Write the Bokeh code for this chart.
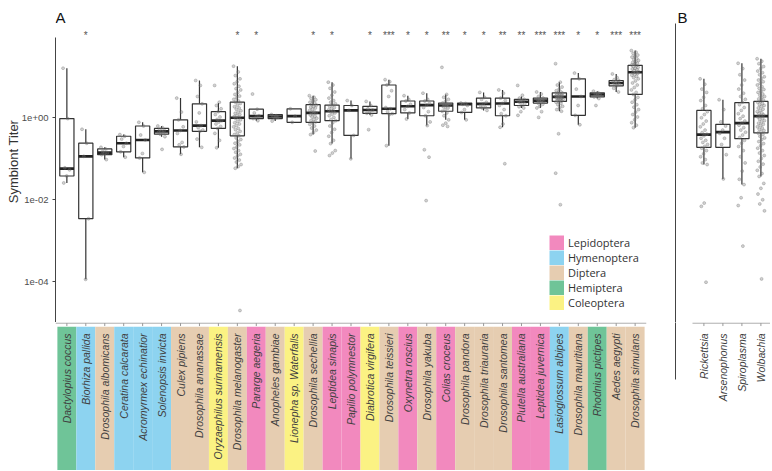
import numpy as np
from bokeh.plotting import figure
from bokeh.models import (Range1d, FixedTicker, CustomJSTickFormatter, ColumnDataSource,
                          Legend, LegendItem, Label)
from bokeh.layouts import row, column
from bokeh.embed import file_html
from bokeh.resources import INLINE
from bokeh.core.properties import value

# ---------------- data (panel A) ----------------
species = ["Dactylopius coccus", "Biorhiza pallida", "Drosophila albomicans", "Ceratina calcarata",
           "Acromyrmex echinatior", "Solenopsis invicta", "Culex pipiens", "Drosophila ananassae",
           "Oryzaephilus surinamensis", "Drosophila melanogaster", "Pararge aegeria", "Anopheles gambiae",
           "Lionepha sp. Waterfalls", "Drosophila sechellia", "Leptidea sinapis", "Papilio polymnestor",
           "Diabrotica virgifera", "Drosophila teissieri", "Oxynetra roscius", "Drosophila yakuba",
           "Colias croceus", "Drosophila pandora", "Drosophila triauraria", "Drosophila santomea",
           "Plutella australiana", "Leptidea juvernica", "Lasioglossum albipes", "Drosophila mauritiana",
           "Rhodnius pictipes", "Aedes aegypti", "Drosophila simulans"]
orders = ["Hemiptera", "Hymenoptera", "Diptera", "Hymenoptera", "Hymenoptera", "Hymenoptera", "Diptera",
          "Diptera", "Coleoptera", "Diptera", "Lepidoptera", "Diptera", "Coleoptera", "Diptera",
          "Lepidoptera", "Lepidoptera", "Coleoptera", "Diptera", "Lepidoptera", "Diptera", "Lepidoptera",
          "Diptera", "Diptera", "Diptera", "Lepidoptera", "Lepidoptera", "Hymenoptera", "Diptera",
          "Hemiptera", "Diptera", "Diptera"]
signif = ["", "*", "", "", "", "", "", "", "", "*", "*", "", "", "*", "*", "", "*", "***", "*", "*",
          "**", "*", "*", "**", "**", "***", "***", "*", "*", "***", "***"]

# box statistics, log10(titer)
lo_A = [-1.59, -3.94, -1.02, -0.96, -1.33, -0.46, -0.89, -0.72, -0.73, -1.23, -0.07, -0.08, -0.11, -0.41,
        -0.63, -1.00, 0.07, -0.68, -0.03, -0.19, -0.05, -0.05, 0.18, -0.23, 0.24, 0.24, 0.16, -0.17,
        0.47, 0.63, -0.24]
q1_A = [-1.42, -2.46, -0.90, -0.83, -0.98, -0.40, -0.71, -0.33, -0.26, -0.44, -0.02, -0.02, -0.11, -0.11,
        -0.07, -0.43, 0.11, 0.10, 0.12, 0.05, 0.16, 0.13, 0.24, 0.05, 0.30, 0.36, 0.40, 0.06, 0.51, 0.78, 0.57]
med_A = [-1.24, -0.94, -0.85, -0.62, -0.54, -0.33, -0.31, -0.19, -0.07, 0.00, 0.04, 0.03, 0.04, 0.12,
         0.16, 0.18, 0.19, 0.22, 0.28, 0.31, 0.30, 0.33, 0.34, 0.35, 0.39, 0.42, 0.51, 0.52, 0.57, 0.85, 1.11]
q3_A = [-0.02, -0.62, -0.76, -0.45, -0.20, -0.26, -0.05, 0.34, 0.15, 0.38, 0.21, 0.08, 0.22, 0.32, 0.31,
        0.30, 0.28, 0.80, 0.41, 0.41, 0.36, 0.36, 0.48, 0.48, 0.45, 0.48, 0.61, 0.95, 0.61, 0.91, 1.28]
hi_A = [1.21, -0.28, -0.72, -0.41, -0.11, -0.20, 0.48, 0.91, 0.36, 1.26, 0.21, 0.08, 0.22, 0.54, 0.87,
        0.42, 0.40, 0.93, 0.54, 0.60, 0.57, 0.36, 0.62, 0.68, 0.52, 0.63, 0.87, 1.09, 0.65, 1.07, 1.64]

# individual samples, log10(titer)
points_A = {
    "Dactylopius coccus": [1.21, -0.02, -1.22, -1.27, -1.42, -1.59],
    "Biorhiza pallida": [-0.28, -0.62, -0.94, -2.46, -3.94],
    "Drosophila albomicans": [-0.72, -0.76, -0.82, -0.85, -0.88, -0.90, -1.02],
    "Ceratina calcarata": [-0.41, -0.45, -0.52, -0.62, -0.70, -0.83, -0.96],
    "Acromyrmex echinatior": [-0.11, -0.20, -0.42, -0.54, -0.87, -0.98, -1.33],
    "Solenopsis invicta": [-0.20, -0.24, -0.28, -0.31, -0.33, -0.35, -0.38, -0.40, -0.46, -0.77],
    "Culex pipiens": [0.48, 0.14, -0.05, -0.22, -0.31, -0.38, -0.60, -0.66, -0.71, -0.89],
    "Drosophila ananassae": [0.91, 0.79, 0.52, 0.34, 0.12, -0.10, -0.19, -0.24, -0.30, -0.33, -0.52, -0.72],
    "Oryzaephilus surinamensis": [0.79, 0.38, 0.30, 0.22, 0.15, 0.08, 0.02, -0.04, -0.07, -0.10, -0.15,
                                  -0.21, -0.26, -0.38, -0.55, -0.73],
    "Drosophila melanogaster": [1.26, 1.12, 1.03, 0.95, 0.88, 0.83, 0.77, 0.71, 0.68, 0.62, 0.57, 0.53,
                                0.49, 0.45, 0.41, 0.38, 0.35, 0.31, 0.27, 0.24, 0.21, 0.17, 0.14, 0.11,
                                0.08, 0.05, 0.03, 0.00, -0.02, -0.05, -0.09, -0.12, -0.15, -0.19, -0.22,
                                -0.26, -0.29, -0.33, -0.37, -0.41, -0.44, -0.49, -0.53, -0.58, -0.62,
                                -0.66, -0.71, -0.75, -0.80, -0.84, -0.89, -0.93, -0.98, -1.03, -1.08,
                                -1.14, -1.19, -1.23, -4.70],
    "Pararge aegeria": [0.58, 0.21, 0.12, 0.05, 0.02, -0.02, -0.07],
    "Anopheles gambiae": [0.08, 0.05, 0.03, 0.01, -0.02, -0.08],
    "Lionepha sp. Waterfalls": [0.22, 0.04, -0.11],
    "Drosophila sechellia": [0.54, 0.50, 0.47, 0.44, 0.41, 0.38, 0.36, 0.33, 0.31, 0.28, 0.26, 0.24, 0.21,
                             0.18, 0.15, 0.13, 0.12, 0.10, 0.07, 0.04, 0.02, -0.01, -0.04, -0.07, -0.10,
                             -0.12, -0.16, -0.20, -0.25, -0.30, -0.36, -0.41, -0.81],
    "Leptidea sinapis": [0.87, 0.80, 0.72, 0.63, 0.55, 0.48, 0.42, 0.38, 0.34, 0.31, 0.28, 0.25, 0.22,
                         0.19, 0.17, 0.15, 0.12, 0.09, 0.05, 0.01, -0.04, -0.07, -0.12, -0.20, -0.28,
                         -0.36, -0.45, -0.55, -0.63, -0.80, -0.86, -0.92],
    "Papilio polymnestor": [0.42, 0.30, 0.18, -0.43, -1.00],
    "Diabrotica virgifera": [0.40, 0.30, 0.22, 0.19, 0.15, 0.11, 0.07, -0.29],
    "Drosophila teissieri": [0.93, 0.88, 0.80, 0.66, 0.52, 0.25, 0.22, 0.15, 0.10, 0.08, -0.68],
    "Oxynetra roscius": [0.54, 0.45, 0.41, 0.33, 0.28, 0.20, 0.12, -0.03],
    "Drosophila yakuba": [0.60, 0.45, 0.41, 0.35, 0.31, 0.25, 0.15, 0.05, -0.10, -0.19, -0.78, -0.96, -2.02],
    "Colias croceus": [1.23, 0.57, 0.50, 0.45, 0.40, 0.36, 0.33, 0.31, 0.30, 0.29, 0.27, 0.24, 0.20,
                       0.16, 0.12, 0.05, -0.05, -0.13, -0.18, -0.21],
    "Drosophila pandora": [0.36, 0.35, 0.33, 0.30, 0.20, 0.13, -0.05],
    "Drosophila triauraria": [0.62, 0.50, 0.45, 0.38, 0.34, 0.30, 0.26, 0.24, 0.18],
    "Drosophila santomea": [0.68, 0.60, 0.48, 0.42, 0.35, 0.30, 0.20, 0.10, 0.05, -0.15, -0.23, -1.12],
    "Plutella australiana": [0.79, 0.55, 0.48, 0.45, 0.43, 0.40, 0.39, 0.37, 0.34, 0.30, 0.27, 0.24,
                             0.15, 0.06],
    "Leptidea juvernica": [0.63, 0.58, 0.52, 0.48, 0.46, 0.44, 0.42, 0.41, 0.40, 0.38, 0.36, 0.33, 0.28,
                           0.24, 0.15, 0.01],
    "Lasioglossum albipes": [1.32, 0.87, 0.80, 0.75, 0.70, 0.66, 0.63, 0.61, 0.60, 0.58, 0.57, 0.55, 0.54,
                             0.53, 0.52, 0.51, 0.50, 0.49, 0.48, 0.47, 0.46, 0.45, 0.44, 0.42, 0.41, 0.40,
                             0.38, 0.35, 0.32, 0.28, 0.24, 0.20, 0.16, -0.39, -1.35, -2.12],
    "Drosophila mauritiana": [1.09, 0.95, 0.70, 0.52, 0.30, 0.06, -0.17],
    "Rhodnius pictipes": [0.65, 0.61, 0.58, 0.57, 0.54, 0.51, 0.47, 0.30],
    "Aedes aegypti": [1.07, 0.98, 0.93, 0.91, 0.89, 0.87, 0.85, 0.83, 0.81, 0.78, 0.72, 0.63],
    "Drosophila simulans": [1.64, 1.60, 1.57, 1.53, 1.50, 1.48, 1.45, 1.42, 1.40, 1.37, 1.35, 1.33, 1.31,
                            1.29, 1.27, 1.25, 1.23, 1.21, 1.19, 1.17, 1.15, 1.13, 1.11, 1.10, 1.08, 1.06,
                            1.04, 1.01, 0.98, 0.95, 0.90, 0.85, 0.80, 0.74, 0.68, 0.62, 0.57, 0.50, 0.44,
                            0.38, 0.32, 0.26, 0.20, 0.14, 0.08, 0.02, -0.05, -0.12, -0.18, -0.24],
}

# ---------------- data (panel B) ----------------
symbionts = ["Rickettsia", "Arsenophonus", "Spiroplasma", "Wolbachia"]
lo_B = [-1.14, -1.49, -1.63, -1.43]
q1_B = [-0.72, -0.72, -0.51, -0.37]
med_B = [-0.41, -0.35, -0.13, 0.04]
q3_B = [0.18, -0.16, 0.37, 0.40]
hi_B = [0.95, 0.44, 1.33, 1.44]
points_B = {
    "Rickettsia": [0.95, 0.82, 0.70, 0.62, 0.50, 0.42, 0.30, 0.22, 0.15, 0.08, 0.00, -0.08, -0.15, -0.22,
                   -0.30, -0.36, -0.40, -0.44, -0.50, -0.55, -0.60, -0.65, -0.70, -0.74, -0.80, -0.88,
                   -0.95, -1.02, -1.10, -1.14, -2.08, -2.16, -4.01],
    "Arsenophonus": [0.44, 0.20, -0.10, -0.20, -0.30, -0.38, -0.50, -0.65, -0.90, -1.49],
    "Spiroplasma": [1.33, 1.20, 1.05, 0.92, 0.80, 0.70, 0.60, 0.52, 0.45, 0.38, 0.32, 0.25, 0.18, 0.10,
                    0.04, -0.02, -0.08, -0.13, -0.18, -0.24, -0.30, -0.35, -0.42, -0.48, -0.55, -0.62,
                    -0.70, -0.80, -0.95, -1.10, -1.30, -1.50, -1.63, -1.95, -2.14, -3.13],
    "Wolbachia": [1.44, 1.38, 1.32, 1.25, 1.20, 1.14, 1.10, 1.05, 1.00, 0.96, 0.92, 0.88, 0.84, 0.80, 0.76,
                  0.72, 0.69, 0.65, 0.62, 0.58, 0.55, 0.52, 0.49, 0.46, 0.43, 0.40, 0.38, 0.35, 0.32,
                  0.30, 0.27, 0.24, 0.21, 0.18, 0.15, 0.12, 0.10, 0.07, 0.04, 0.02, -0.01, -0.04, -0.07,
                  -0.10, -0.13, -0.16, -0.19, -0.22, -0.25, -0.28, -0.31, -0.34, -0.37, -0.41, -0.45,
                  -0.49, -0.53, -0.58, -0.63, -0.68, -0.74, -0.80, -0.86, -0.92, -0.99, -1.06, -1.13,
                  -1.20, -1.28, -1.36, -1.43, -1.60, -1.72, -1.86, -2.00, -2.10, -2.27, -3.93],
}

order_names = ["Lepidoptera", "Hymenoptera", "Diptera", "Hemiptera", "Coleoptera"]
order_colors = ["#F289BE", "#8DD3F0", "#E6CDB1", "#6FC498", "#FBF283"]
color_of = dict(zip(order_names, order_colors))

# ---------------- styling constants ----------------
Y_LO, Y_HI = 10 ** -4.993, 10 ** 2.861
BOX_W = 0.75
JIT = 0.2
AX_COL = "#444444"
TXT_COL = "#4d4d4d"
PT_COL = "#707070"
TOP_H = 322
STRIP_H = 148

tick_fmt = CustomJSTickFormatter(code="""
const e = Math.round(Math.log10(tick));
const a = Math.abs(e);
return "1e" + (e < 0 ? "-" : "+") + (a < 10 ? "0" : "") + a;
""")


def jitter_offsets(n):
    return [((k * 0.6180339887) % 1.0 - 0.5) * 2 * JIT for k in range(n)]


def draw_boxes(p, names, lo, q1, med, q3, hi, pts):
    xs = list(range(1, len(names) + 1))
    src = ColumnDataSource(dict(
        x=xs,
        lo=[10 ** v for v in lo], q1=[10 ** v for v in q1], med=[10 ** v for v in med],
        q3=[10 ** v for v in q3], hi=[10 ** v for v in hi],
        x0=[x - BOX_W / 2 for x in xs], x1=[x + BOX_W / 2 for x in xs]))
    p.segment(x0="x", y0="hi", x1="x", y1="q3", source=src, line_color="#333333", line_width=1.2)
    p.segment(x0="x", y0="lo", x1="x", y1="q1", source=src, line_color="#333333", line_width=1.2)
    p.vbar(x="x", width=BOX_W, bottom="q1", top="q3", source=src, fill_color="white",
           line_color="#333333", line_width=1.2)
    p.segment(x0="x0", y0="med", x1="x1", y1="med", source=src, line_color="#222222", line_width=2.6)
    px, py = [], []
    for x, name in zip(xs, names):
        vals = pts[name]
        offs = jitter_offsets(len(vals))
        px += [x + o for o in offs]
        py += [10 ** v for v in vals]
    p.scatter(px, py, size=3.0, fill_color=PT_COL, line_color=PT_COL, fill_alpha=0.32, line_alpha=0.32)


def strip_axis(s, xs, x_start, x_end):
    # axis rule and downward ticks along the top of a label strip
    s.segment(x0=[x_start], y0=[0.996], x1=[x_end], y1=[0.996], line_color="#999999", line_width=1)
    s.segment(x0=xs, y0=[0.996] * len(xs), x1=xs, y1=[0.976] * len(xs), line_color="#999999",
              line_width=1)


# ---------------- panel A ----------------
nA = len(species)
xA = list(range(1, nA + 1))
pA = figure(width=668, height=TOP_H, x_range=Range1d(0.4, nA + 0.6), y_range=Range1d(Y_LO, Y_HI),
            y_axis_type="log", output_backend="svg", toolbar_location=None, x_axis_location=None,
            min_border_left=55, min_border_right=22, min_border_top=0, min_border_bottom=0)
pA.outline_line_color = None
pA.grid.visible = False
yax = pA.yaxis[0]
yax.ticker = FixedTicker(ticks=[1e-4, 1e-2, 1.0])
yax.formatter = tick_fmt
yax.bounds = (Y_LO, 10 ** 1.95)
yax.minor_tick_line_color = None
yax.major_tick_out = 3
yax.major_tick_in = 0
yax.major_tick_line_color = AX_COL
yax.axis_line_color = AX_COL
yax.major_label_text_font = "Liberation Sans"
yax.major_label_text_font_size = "9.5px"
yax.major_label_text_color = TXT_COL
yax.major_label_standoff = 4
yax.axis_label = "Symbiont Titer"
yax.axis_label_text_font = "Liberation Sans"
yax.axis_label_text_font_size = "13px"
yax.axis_label_text_font_style = "normal"
yax.axis_label_text_color = "#333333"
yax.axis_label_standoff = -2

draw_boxes(pA, species, lo_A, q1_A, med_A, q3_A, hi_A, points_A)

pA.text(x=xA, y=[100.0] * nA, text=signif, text_align="center", text_baseline="middle",
        text_font=value("Liberation Sans"), text_font_size="10px", text_color="#555555")

pA.add_layout(Label(x=0.4, y=10 ** 2.454, text="A", text_font="Liberation Sans", text_font_size="15px",
                    text_color="#111111", text_baseline="alphabetic"))

leg_items = []
for name, col in zip(order_names, order_colors):
    r = pA.line(x=[np.nan, np.nan], y=[np.nan, np.nan], line_color=col, line_width=15, line_cap="butt")
    leg_items.append(LegendItem(label=name, renderers=[r]))
legend = Legend(items=leg_items, location=(494, 12), glyph_width=15, glyph_height=15, label_height=15,
                spacing=0, padding=0, margin=0, label_standoff=4, border_line_alpha=0,
                background_fill_alpha=0, label_text_font="Open Sans", label_text_font_size="11px",
                label_text_color="#333333")
pA.add_layout(legend)

# strip under panel A
sA = figure(width=668, height=STRIP_H, x_range=pA.x_range, y_range=Range1d(0, 1),
            output_backend="svg", toolbar_location=None, x_axis_location=None, y_axis_location=None,
            min_border_left=55, min_border_right=22, min_border_top=0, min_border_bottom=0)
sA.outline_line_color = None
sA.grid.visible = False
sA.vbar(x=xA, width=1.0, bottom=0, top=0.972, fill_color=[color_of[o] for o in orders], line_color=None)
strip_axis(sA, xA, 0.4, nA + 0.6)
sA.text(x=xA, y=[0.926] * nA, text=species, angle=np.pi / 2, text_align="right", text_baseline="middle",
        text_font=value("Liberation Sans"), text_font_style="italic", text_font_size="10.5px",
        text_color="#404040")

# ---------------- panel B ----------------
nB = len(symbionts)
xB = list(range(1, nB + 1))
xB_start, xB_end = -0.495, nB + 0.505
pB = figure(width=102, height=TOP_H, x_range=Range1d(xB_start, xB_end), y_range=Range1d(Y_LO, Y_HI),
            y_axis_type="log", output_backend="svg", toolbar_location=None, x_axis_location=None,
            min_border_left=7, min_border_right=0, min_border_top=0, min_border_bottom=0)
pB.outline_line_color = None
pB.grid.visible = False
yb = pB.yaxis[0]
yb.ticker = FixedTicker(ticks=[])
yb.bounds = (Y_LO, 10 ** 2.29)
yb.major_label_standoff = 0
yb.axis_label_standoff = 0
yb.major_tick_out = 0
yb.major_tick_in = 0
yb.minor_tick_line_color = None
yb.axis_line_color = AX_COL
draw_boxes(pB, symbionts, lo_B, q1_B, med_B, q3_B, hi_B, points_B)
pB.add_layout(Label(x=xB_start, x_offset=2, y=10 ** 2.454, text="B", text_font="Liberation Sans",
                    text_font_size="15px", text_color="#111111", text_baseline="alphabetic"))

sB = figure(width=102, height=STRIP_H, x_range=pB.x_range, y_range=Range1d(0, 1),
            output_backend="svg", toolbar_location=None, x_axis_location=None,
            min_border_left=7, min_border_right=0, min_border_top=0, min_border_bottom=0)
sB.outline_line_color = None
sB.grid.visible = False
yb2 = sB.yaxis[0]
yb2.ticker = FixedTicker(ticks=[])
yb2.bounds = (0.615, 1.0)
yb2.major_label_standoff = 0
yb2.axis_label_standoff = 0
yb2.major_tick_out = 0
yb2.major_tick_in = 0
yb2.minor_tick_line_color = None
yb2.axis_line_color = AX_COL
strip_axis(sB, xB, 0.4, xB_end)
sB.text(x=xB, y=[0.926] * nB, text=symbionts, angle=np.pi / 2, text_align="right", text_baseline="middle",
        text_font=value("Liberation Sans"), text_font_style="italic", text_font_size="10.5px",
        text_color="#404040")

layout = row(column(pA, sA), column(pB, sB))
open("out.html", "w").write(file_html(layout, INLINE))
